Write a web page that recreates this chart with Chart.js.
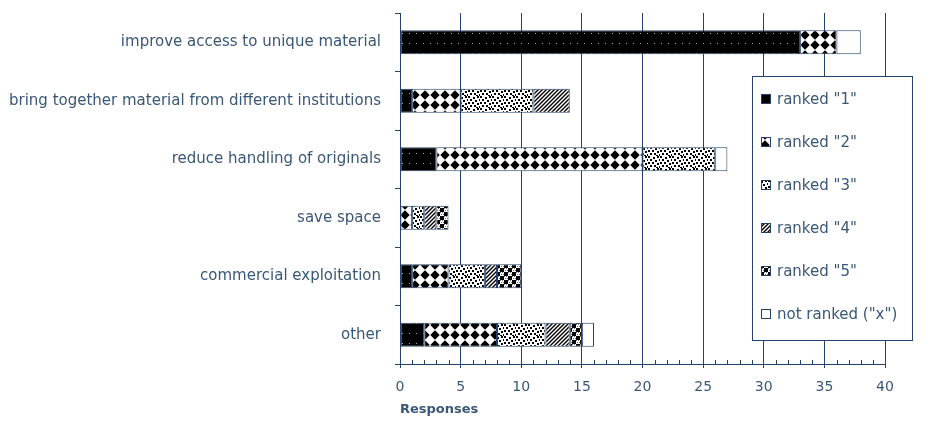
<!DOCTYPE html>
<html>
<head>
<meta charset="utf-8">
<script src="https://cdn.jsdelivr.net/npm/chart.js@4/dist/chart.umd.min.js"></script>
<style>
  html, body { margin: 0; background: #fff; }
</style>
</head>
<body>
<canvas id="chart" width="933" height="421"></canvas>
<script>
// data
const categories = [
  'improve access to unique material',
  'bring together material from different institutions',
  'reduce handling of originals',
  'save space',
  'commercial exploitation',
  'other'
];
const seriesLabels = ['ranked "1"', 'ranked "2"', 'ranked "3"', 'ranked "4"', 'ranked "5"', 'not ranked ("x")'];
const ranked1 = [33, 1, 3, 0, 1, 2];
const ranked2 = [3, 4, 17, 1, 3, 6];
const ranked3 = [0, 6, 6, 1, 3, 4];
const ranked4 = [0, 3, 0, 1, 1, 2];
const ranked5 = [0, 0, 0, 1, 2, 1];
const notRanked = [2, 0, 1, 0, 0, 1];
const xTicks = [0, 5, 10, 15, 20, 25, 30, 35, 40];

const NAVY = '#24426a';
const TEXT = '#3a5777';
const FONT = '"DejaVu Sans", Verdana, sans-serif';

const canvas = document.getElementById('chart');
const ctx = canvas.getContext('2d');

// monochrome fill patterns
function tile(w, h, draw) {
  const c = document.createElement('canvas');
  c.width = w; c.height = h;
  const g = c.getContext('2d');
  draw(g, w, h);
  return ctx.createPattern(c, 'repeat');
}
const patDots = tile(7, 10, g => {
  g.fillStyle = '#000'; g.fillRect(0, 0, 7, 10);
  g.fillStyle = '#aaa'; g.fillRect(3, 3, 1, 1);
});
const patDiamond = tile(10, 10, g => {
  g.fillStyle = '#fff'; g.fillRect(0, 0, 10, 10);
  g.fillStyle = '#000';
  g.beginPath(); g.moveTo(5, 0.3); g.lineTo(9.7, 5); g.lineTo(5, 9.7); g.lineTo(0.3, 5); g.closePath(); g.fill();
});
const patSpeckle = tile(12, 12, g => {
  g.fillStyle = '#fff'; g.fillRect(0, 0, 12, 12);
  g.fillStyle = '#000';
  [[0, 0], [5, 1], [9, 0], [2, 3], [7, 4], [11, 3], [0, 6], [4, 6], [9, 7],
   [2, 9], [6, 9], [11, 10], [8, 11]].forEach(([x, y]) => g.fillRect(x, y, 2, 2));
});
const patHatch = tile(4, 4, g => {
  g.fillStyle = '#fff'; g.fillRect(0, 0, 4, 4);
  g.strokeStyle = '#000'; g.lineWidth = 1.4;
  g.beginPath(); g.moveTo(-1, 5); g.lineTo(5, -1); g.moveTo(-1, 1); g.lineTo(1, -1); g.moveTo(3, 5); g.lineTo(5, 3); g.stroke();
});
const patCheck = tile(8, 8, g => {
  g.fillStyle = '#fff'; g.fillRect(0, 0, 8, 8);
  g.fillStyle = '#000';
  g.fillRect(0, 0, 4, 4); g.fillRect(4, 4, 4, 4);
  g.fillStyle = '#777';
  for (let x = 4; x < 8; x += 2) { g.fillRect(x, 0, 1, 1); g.fillRect(x + 1, 2, 1, 1); }
  for (let x = 0; x < 4; x += 2) { g.fillRect(x, 4, 1, 1); g.fillRect(x + 1, 6, 1, 1); }
});
const fills = [patDots, patDiamond, patSpeckle, patHatch, patCheck, '#fff'];
const seriesData = [ranked1, ranked2, ranked3, ranked4, ranked5, notRanked];

const minorTicks = {
  id: 'minorTicks',
  beforeDatasetsDraw(chart) {
    const x = chart.scales.x, c = chart.ctx, b = chart.chartArea.bottom;
    c.save(); c.strokeStyle = NAVY; c.lineWidth = 1;
    for (let v = x.min; v <= x.max; v++) {
      if (v % 5 === 0) continue;
      const px = Math.round(x.getPixelForValue(v)) + 0.5;
      c.beginPath(); c.moveTo(px, b); c.lineTo(px, b - 4); c.stroke();
    }
    c.restore();
  }
};

const boxLegend = {
  id: 'boxLegend',
  afterDraw(chart) {
    const c = chart.ctx;
    c.save();
    c.fillStyle = '#fff'; c.strokeStyle = NAVY; c.lineWidth = 1;
    c.fillRect(752.5, 76.5, 160, 264);
    c.strokeRect(752.5, 76.5, 160, 264);
    c.font = '15px ' + FONT; c.textBaseline = 'middle';
    chart.data.datasets.forEach((ds, i) => {
      const y = 99 + i * 43;
      c.fillStyle = ds.backgroundColor;
      c.fillRect(761, y - 5, 10, 10);
      c.strokeStyle = NAVY; c.strokeRect(761.5, y - 4.5, 9, 9);
      c.fillStyle = TEXT;
      c.fillText(ds.label, 777, y + 1);
    });
    c.restore();
  }
};

new Chart(ctx, {
  type: 'bar',
  data: {
    labels: categories,
    datasets: seriesLabels.map((label, i) => ({
      label,
      data: seriesData[i],
      backgroundColor: fills[i],
      borderColor: NAVY,
      borderWidth: 1,
      borderSkipped: false,
      barPercentage: 0.41,
      categoryPercentage: 1
    }))
  },
  options: {
    indexAxis: 'y',
    responsive: false,
    animation: false,
    layout: { padding: { top: 13, right: 48, left: 0, bottom: 0 } },
    plugins: { legend: { display: false }, tooltip: { enabled: false } },
    scales: {
      y: {
        stacked: true,
        afterFit(s) { s.width = 400; s.paddingTop = 0; s.paddingBottom = 0; },
        grid: { drawOnChartArea: false, offset: true, tickLength: 5, color: NAVY },
        border: { color: NAVY },
        ticks: { color: TEXT, font: { family: FONT, size: 15 }, padding: 14 }
      },
      x: {
        stacked: true,
        min: 0, max: 40,
        afterBuildTicks(s) { s.ticks = xTicks.map(v => ({ value: v })); },
        afterFit(s) { s.height = 57; },
        grid: { color: NAVY, tickLength: 4 },
        border: { color: NAVY },
        ticks: { color: TEXT, font: { family: FONT, size: 14 }, padding: 11 },
        title: {
          display: true, text: 'Responses', align: 'start',
          color: TEXT, font: { family: FONT, size: 13, weight: 'bold' }, padding: { top: 6 }
        }
      }
    }
  },
  plugins: [minorTicks, boxLegend]
});
</script>
</body>
</html>
